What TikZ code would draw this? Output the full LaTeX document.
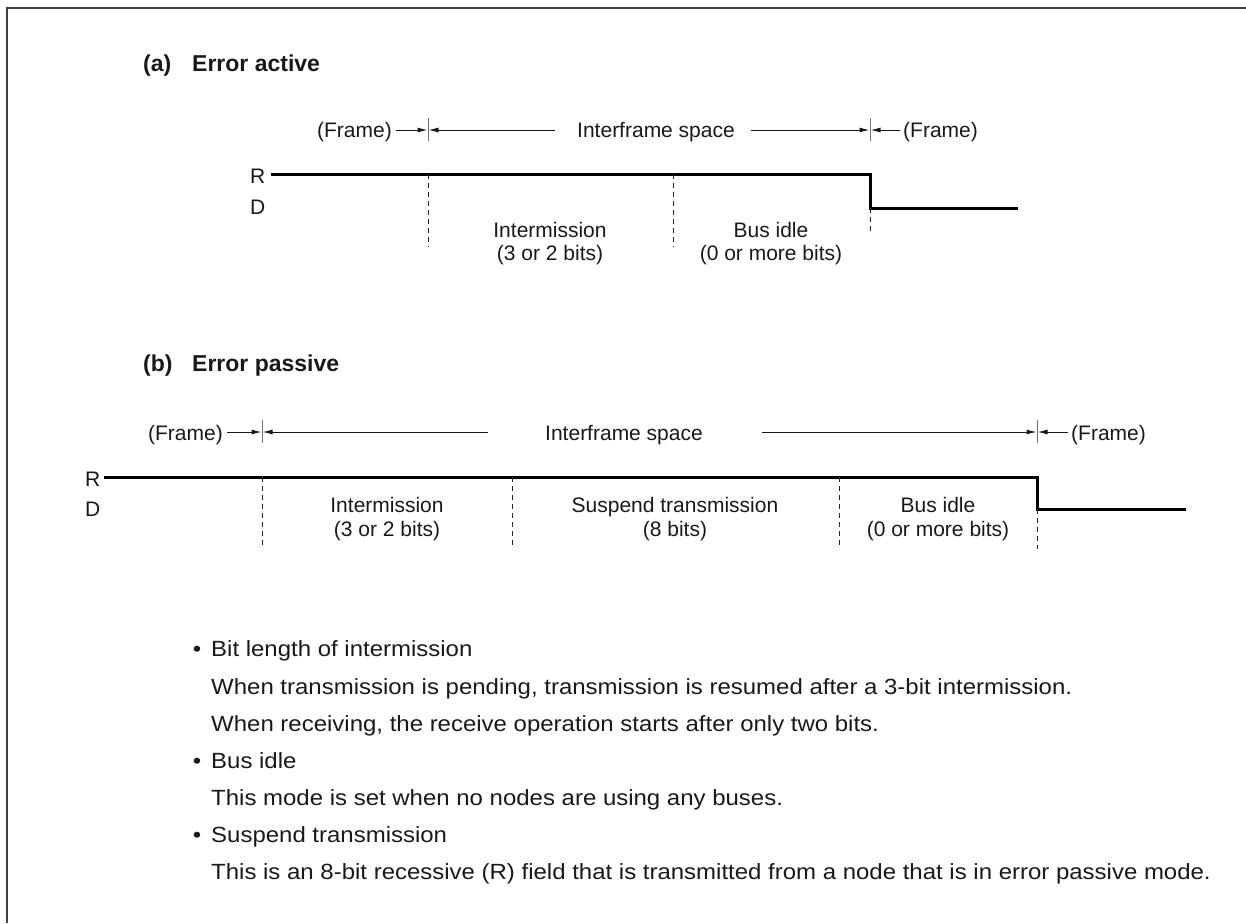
\documentclass[tikz,border=0pt]{standalone}
\usepackage{fontspec}
\setmainfont{Liberation Sans}
\newfontfamily\notefont[FakeStretch=1.09]{Liberation Sans}
\usetikzlibrary{arrows.meta}
\begin{document}
\begin{tikzpicture}[x=1pt,y=-1pt,
  txt/.style={font=\fontsize{21}{25}\selectfont, text=black!90, inner sep=0pt, anchor=base},
  note/.style={font=\notefont\fontsize{22}{26}\selectfont, text=black!90, inner sep=0pt, anchor=base west},
  ttl/.style={font=\fontsize{23}{27}\selectfont\bfseries, text=black!90, inner sep=0pt, anchor=base west},
  sig/.style={line width=3pt, line join=miter, line cap=butt},
  gridline/.style={dash pattern=on 5pt off 4pt, line width=0.9pt, draw=black!85},
  tickline/.style={line width=1pt, draw=black!55},
  dim/.style={line width=1pt, draw=black!90, -{Latex[length=10pt,width=5pt]}},
]
\useasboundingbox (0,0) rectangle (1246,923);
\draw[line width=2pt, black!75] (7,923) -- (7,8) -- (1246,8);

% ---------------- (a) Error active ----------------
\node[ttl] (ta) at (143,72) {\makebox[49pt][l]{(a)}Error active};

\coordinate (ka) at (428,130);
\coordinate (kb) at (870,130);
\draw[tickline] ([yshift=12pt]ka) -- ([yshift=-11pt]ka);
\draw[tickline] ([yshift=12pt]kb) -- ([yshift=-11pt]kb);
\node[txt, anchor=base east] (fa1) at (392,137) {(Frame)};
\node[txt] (ifa) at (656,137) {Interframe space};
\node[txt, anchor=base west] (fa2) at (903,137) {(Frame)};
\draw[dim] ([xshift=4pt]fa1.east |- ka) -- ([xshift=-0.5pt]ka);
\draw[dim] ([xshift=-22pt]ifa.west |- ka) -- ([xshift=0.5pt]ka);
\draw[dim] ([xshift=16pt]ifa.east |- kb) -- ([xshift=-0.5pt]kb);
\draw[dim] ([xshift=-3pt]fa2.west |- kb) -- ([xshift=0.5pt]kb);

\node[txt, anchor=base west] (ra) at (250,183) {R};
\node[txt, anchor=base west] (da) at (250,214) {D};
\coordinate (a0) at (271,174);
\coordinate (a1) at (870,174);
\coordinate (a2) at (870,208);
\coordinate (a3) at (1018,208);
\draw[sig] (a0) -- (a1) -- (a2) -- (a3);

\coordinate (ga1) at (428,174);
\coordinate (ga2) at (673,174);
\draw[gridline] (ga1) -- (428,247);
\draw[gridline] (ga2) -- (673,247);
\draw[gridline] (a2) -- (870,231);

\node[txt] (ia1) at (550,237) {Intermission};
\node[txt] (ia2) at (550,260) {(3 or 2 bits)};
\node[txt] (ba1) at (771,237) {Bus idle};
\node[txt] (ba2) at (771,260) {(0 or more bits)};

% ---------------- (b) Error passive ----------------
\node[ttl] (tb) at (143,371) {\makebox[49pt][l]{(b)}Error passive};

\coordinate (kc) at (262,432);
\coordinate (kd) at (1037,432);
\draw[tickline] ([yshift=12pt]kc) -- ([yshift=-11pt]kc);
\draw[tickline] ([yshift=12pt]kd) -- ([yshift=-11pt]kd);
\node[txt, anchor=base east] (fb1) at (223,440) {(Frame)};
\node[txt] (ifb) at (624,440) {Interframe space};
\node[txt, anchor=base west] (fb2) at (1071,440) {(Frame)};
\draw[dim] ([xshift=4pt]fb1.east |- kc) -- ([xshift=-0.5pt]kc);
\draw[dim] ([xshift=-57pt]ifb.west |- kc) -- ([xshift=0.5pt]kc);
\draw[dim] ([xshift=59pt]ifb.east |- kd) -- ([xshift=-0.5pt]kd);
\draw[dim] ([xshift=-3pt]fb2.west |- kd) -- ([xshift=0.5pt]kd);

\node[txt, anchor=base west] (rb) at (85,486) {R};
\node[txt, anchor=base west] (db) at (85,516) {D};
\coordinate (b0) at (104,477);
\coordinate (b1) at (1037,477);
\coordinate (b2) at (1037,509);
\coordinate (b3) at (1186,509);
\draw[sig] (b0) -- (b1) -- (b2) -- (b3);

\coordinate (gb1) at (262,477);
\coordinate (gb2) at (512,477);
\coordinate (gb3) at (839,477);
\draw[gridline] (gb1) -- (262,549);
\draw[gridline] (gb2) -- (512,549);
\draw[gridline] (gb3) -- (839,549);
\draw[gridline] (b2) -- (1037,549);

\node[txt] (ib1) at (387,512) {Intermission};
\node[txt] (ib2) at (387,536) {(3 or 2 bits)};
\node[txt] (sb1) at (675,512) {Suspend transmission};
\node[txt] (sb2) at (675,536) {(8 bits)};
\node[txt] (bb1) at (938,512) {Bus idle};
\node[txt] (bb2) at (938,536) {(0 or more bits)};

% ---------------- notes ----------------
\node[note, anchor=base] (u1) at (197,656) {\textbullet};
\node[note] (n1) at (211,656) {Bit length of intermission};
\node[note] (n2) at (211,694) {When transmission is pending, transmission is resumed after a 3-bit intermission.};
\node[note] (n3) at (211,731) {When receiving, the receive operation starts after only two bits.};
\node[note, anchor=base] (u2) at (197,768) {\textbullet};
\node[note] (n4) at (211,768) {Bus idle};
\node[note] (n5) at (211,805) {This mode is set when no nodes are using any buses.};
\node[note, anchor=base] (u3) at (197,842) {\textbullet};
\node[note] (n6) at (211,842) {Suspend transmission};
\node[note] (n7) at (211,879) {This is an 8-bit recessive (R) field that is transmitted from a node that is in error passive mode.};
\end{tikzpicture}
\end{document}
